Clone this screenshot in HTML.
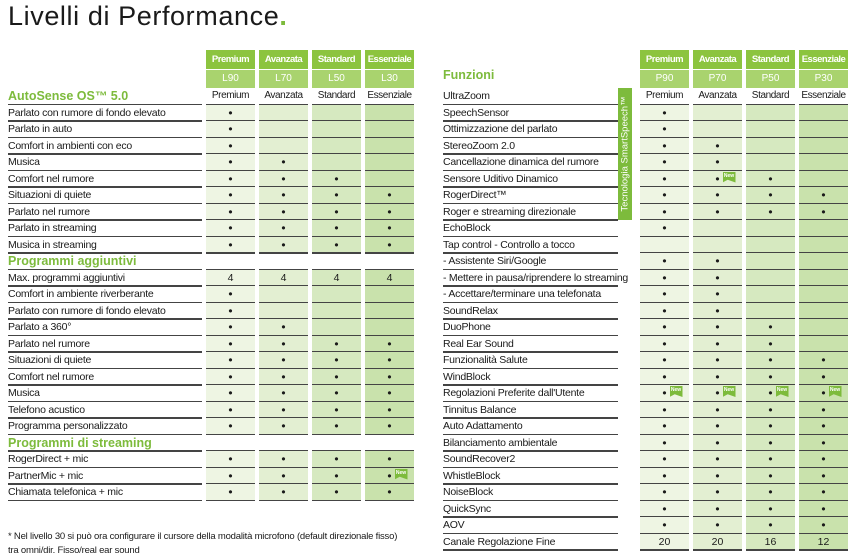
<!DOCTYPE html>
<html><head><meta charset="utf-8"><style>
body{margin:0;width:860px;height:558px;background:#fff;position:relative;overflow:hidden;font-family:"Liberation Sans",sans-serif;color:#1a1a1a}
.a{position:absolute}
.t{font-size:27px;left:8px;top:1px;letter-spacing:0.6px}
.lbl{font-size:10.5px;white-space:nowrap;line-height:16px;letter-spacing:-0.25px}
.sec{font-size:12.5px;font-weight:bold;color:#7dbb3c;white-space:nowrap;line-height:16px}
.ln{height:1.5px;background:#444}
.cell{text-align:center;font-size:10px;line-height:16px;letter-spacing:-0.4px}
.h1{background:#8cc43f;color:#fff;font-weight:bold;font-size:9.5px;text-align:center;line-height:19px;letter-spacing:-0.5px}
.h2{background:#a9d36e;color:#fff;font-size:10px;text-align:center;line-height:18px}
.new{width:13px;height:11px;background:#7dbb3c;color:#fff;font-size:5px;font-weight:bold;line-height:8px;text-align:center;clip-path:polygon(0 0,100% 0,100% 100%,40% 75%,0 100%)}
.foot{font-size:9.5px;white-space:nowrap;letter-spacing:-0.2px}
</style></head><body>
<div class="a t">Livelli di Performance<span style="color:#7dbb3c;font-weight:bold">.</span></div>
<div class="a foot" style="left:8px;top:531px">* Nel livello 30 si può ora configurare il cursore della modalità microfono (default direzionale fisso)</div>
<div class="a foot" style="left:8px;top:545px">tra omni/dir. Fisso/real ear sound</div>
<div class="a" style="left:618px;top:88px;width:14px;height:132px;background:#7dbb3c"></div>
<div class="a" style="left:625px;top:154px;transform:translate(-50%,-50%) rotate(-90deg);color:#fff;font-size:9.5px;white-space:nowrap">Tecnologia SmartSpeech™</div>
<div id="root"></div>
<script>
var root=document.getElementById('root');
function add(cls,st,txt){var d=document.createElement('div');d.className='a '+cls;d.setAttribute('style',st);if(txt!==undefined)d.innerHTML=txt;root.appendChild(d);return d;}
var bg=['#eef5e3','#e3efd2','#d6e9c0','#c9e2ac'];
var L={lx:8,lw:194,cols:[206,259,312,365],cw:49,codes:['L90','L70','L50','L30']};
var R={lx:443,lw:175,cols:[640,693,746,799],cw:49,codes:['P90','P70','P50','P30']};
var names=['Premium','Avanzata','Standard','Essenziale'];
function table(T,rows){
 for(var c=0;c<4;c++){add('h1','left:'+T.cols[c]+'px;top:50px;width:'+T.cw+'px;height:19px',names[c]);
  add('h2','left:'+T.cols[c]+'px;top:70px;width:'+T.cw+'px;height:18px',T.codes[c]);}
 rows.forEach(function(r,i){
  var top=88+16.5*i, bot=top+16.5;
  if(r.sec){add('sec','left:'+T.lx+'px;top:'+(top)+'px',r.sec);}
  else add('lbl','left:'+T.lx+'px;top:'+(top)+'px',r.n);
  add('ln','left:'+T.lx+'px;top:'+(bot-1)+'px;width:'+T.lw+'px');
  for(var c=0;c<4;c++){
   var x=T.cols[c];
   if(i===0){add('cell','left:'+x+'px;top:'+top+'px;width:'+T.cw+'px',names[c]);}
   else if(!r.sec){add('','left:'+x+'px;top:'+top+'px;width:'+T.cw+'px;height:16.5px;background:'+bg[c]);
    var v=r.v?r.v[c]:(c<r.d?'•':'');
    add('cell','left:'+x+'px;top:'+top+'px;width:'+T.cw+'px;font-size:'+(r.v?10.5:12)+'px;letter-spacing:0',v);
    if(r.nw&&r.nw.indexOf(c)>=0)add('new','left:'+(x+T.cw/2+5)+'px;top:'+(top+1)+'px','New');}
   add('ln','left:'+x+'px;top:'+(bot-1)+'px;width:'+T.cw+'px');
  }
 });
}
table(L,[
{sec:'AutoSense OS™ 5.0'},
{n:'Parlato con rumore di fondo elevato',d:1},{n:'Parlato in auto',d:1},{n:'Comfort in ambienti con eco',d:1},
{n:'Musica',d:2},{n:'Comfort nel rumore',d:3},{n:'Situazioni di quiete',d:4},{n:'Parlato nel rumore',d:4},
{n:'Parlato in streaming',d:4},{n:'Musica in streaming',d:4},
{sec:'Programmi aggiuntivi'},
{n:'Max. programmi aggiuntivi',v:['4','4','4','4']},{n:'Comfort in ambiente riverberante',d:1},
{n:'Parlato con rumore di fondo elevato',d:1},{n:'Parlato a 360°',d:2},{n:'Parlato nel rumore',d:4},
{n:'Situazioni di quiete',d:4},{n:'Comfort nel rumore',d:4},{n:'Musica',d:4},{n:'Telefono acustico',d:4},
{n:'Programma personalizzato',d:4},
{sec:'Programmi di streaming'},
{n:'RogerDirect + mic',d:4},{n:'PartnerMic + mic',d:4,nw:[3]},{n:'Chiamata telefonica + mic',d:4}
]);
var rr=[{n:'UltraZoom'},{n:'SpeechSensor',d:1},{n:'Ottimizzazione del parlato',d:1},{n:'StereoZoom 2.0',d:2},
{n:'Cancellazione dinamica del rumore',d:2},{n:'Sensore Uditivo Dinamico',d:3,nw:[1]},{n:'RogerDirect™',d:4},
{n:'Roger e streaming direzionale',d:4},{n:'EchoBlock',d:1},{n:'Tap control - Controllo a tocco',d:0},
{n:'- Assistente Siri/Google',d:2},{n:'- Mettere in pausa/riprendere lo streaming',d:2},{n:'- Accettare/terminare una telefonata',d:2},
{n:'SoundRelax',d:2},{n:'DuoPhone',d:3},{n:'Real Ear Sound',d:3},{n:'Funzionalità Salute',d:4},{n:'WindBlock',d:4},
{n:'Regolazioni Preferite dall\'Utente',d:4,nw:[0,1,2,3]},{n:'Tinnitus Balance',d:4},{n:'Auto Adattamento',d:4},
{n:'Bilanciamento ambientale',d:4},{n:'SoundRecover2',d:4},{n:'WhistleBlock',d:4},{n:'NoiseBlock',d:4},
{n:'QuickSync',d:4},{n:'AOV',d:4},{n:'Canale Regolazione Fine',v:['20','20','16','12']}];
add('sec','left:443px;top:67px','Funzioni');
table(R,rr);
</script>
</body></html>
